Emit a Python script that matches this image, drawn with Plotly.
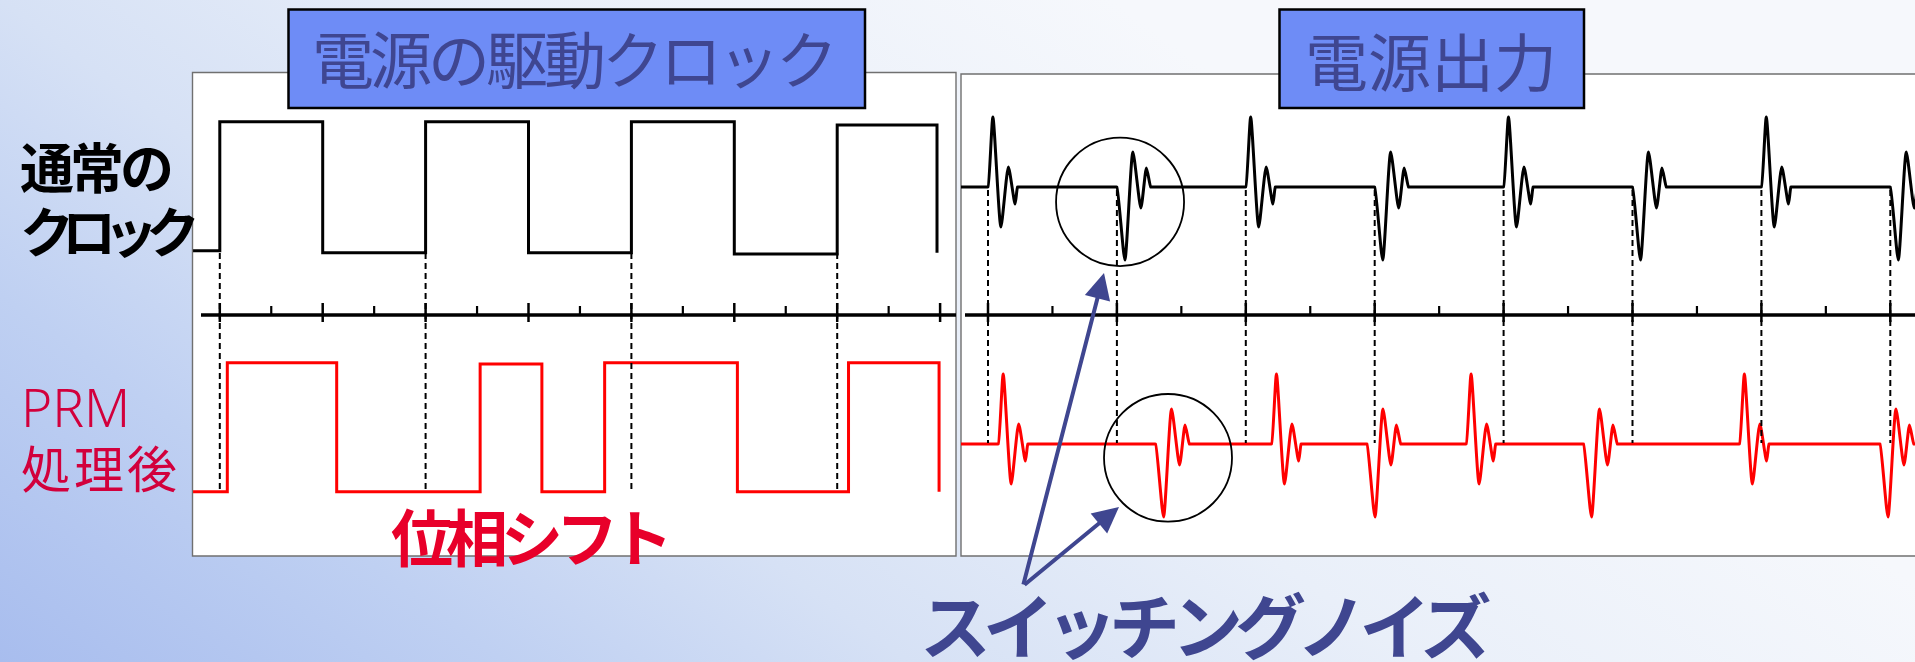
import base64
import plotly.graph_objects as go

W, H = 1915, 662

# ---------------- data ----------------
# Left panel: power-supply drive clock (time unit = one clock half period)
clock_times = [-0.26, 0, 1, 2, 3, 4, 5, 6, 6.97]
clock_levels = [0.015, 1, 0, 1, 0, 1, -0.01, 0.975, 0]
prm_times = [-0.26, 0.073, 1.136, 2.53, 3.13, 3.74, 5.03, 6.11, 6.99]
prm_levels = [0, 1, 0, 0.99, 0, 1, 0, 1, 0]
clock_rise_times = [0, 2, 4, 6]
left_major_ticks = [0, 1, 2, 3, 4, 5, 6, 7]
left_minor_ticks = [0.5, 1.5, 2.5, 3.5, 4.5, 5.5, 6.5]

# Right panel: supply output with switching noise
noise_times = [0, 1, 2, 3, 4, 5, 6, 7]
noise_kinds = ["up", "down", "up", "down", "up", "down", "up", "down"]
prm_noise_times = [0.08, 1.30, 2.20, 2.94, 3.71, 4.62, 5.83, 6.92]
prm_noise_kinds = ["up", "down", "up", "down", "up", "down", "up", "down"]
ring_up_dt = [-0.006, 0, 0.038, 0.100, 0.158, 0.210, 0.229, 0.235]
ring_up_amp = [0, 0, 1.0, -0.571, 0.286, -0.243, 0, 0]
ring_down_dt = [-0.006, 0, 0.062, 0.124, 0.186, 0.229, 0.262, 0.268]
ring_down_amp = [0, 0, -1.043, 0.5, -0.3, 0.271, 0, 0]
right_major_ticks = [0, 1, 2, 3, 4, 5, 6, 7]
right_minor_ticks = [0.5, 1.5, 2.5, 3.5, 4.5, 5.5, 6.5]

# Texts
title_left = "電源の駆動クロック"
title_right = "電源出力"
label_normal = ["通常の", "クロック"]
label_prm = ["PRM", "処理後"]
label_shift = "位相シフト"
label_noise = "スイッチングノイズ"

# ---------------- geometry helpers ----------------
def fx(px):
    return px / W

def fy(py):
    return 1 - py / H

def yax(px_top, px_bot, px_zero, ppu):
    return dict(domain=[fy(px_bot), fy(px_top)],
                range=[(px_zero - px_bot) / ppu, (px_zero - px_top) / ppu],
                visible=False, fixedrange=True)

L_X0, L_X1, L_T0, L_U = 193, 956, 219.8, 102.9
R_X0, R_X1, R_T0, R_U = 961, 1915, 988, 128.9
rangeL = [(L_X0 - L_T0) / L_U, (L_X1 - L_T0) / L_U]
rangeR = [(R_X0 - R_T0) / R_U, (R_X1 - R_T0) / R_U]

def ring_trace(times, kinds, t_start, t_end):
    xs, ys = [t_start], [0]
    for t, k in zip(times, kinds):
        dt = ring_up_dt if k == "up" else ring_down_dt
        amp = ring_up_amp if k == "up" else ring_down_amp
        xs += [t + d for d in dt]
        ys += amp
    xs.append(t_end)
    ys.append(0)
    return xs, ys

def seg(xs, y0, y1):
    X, Y = [], []
    for x in xs:
        X += [x, x, None]
        Y += [y0, y1, None]
    return X, Y

fig = go.Figure()

# left panel signals
fig.add_trace(go.Scatter(x=clock_times, y=clock_levels, mode="lines",
                         line=dict(color="black", width=3, shape="hv"),
                         xaxis="x", yaxis="y", hoverinfo="skip"))
fig.add_trace(go.Scatter(x=prm_times, y=prm_levels, mode="lines",
                         line=dict(color="#ff0000", width=3, shape="hv"),
                         xaxis="x", yaxis="y2", hoverinfo="skip"))

# right panel signals
nx, ny = ring_trace(noise_times, noise_kinds, rangeR[0], 7.5)
fig.add_trace(go.Scatter(x=nx, y=ny, mode="lines",
                         line=dict(color="black", width=3, shape="spline", smoothing=0.6),
                         xaxis="x2", yaxis="y3", hoverinfo="skip"))
px_, py_ = ring_trace(prm_noise_times, prm_noise_kinds, rangeR[0], 7.5)
fig.add_trace(go.Scatter(x=px_, y=py_, mode="lines",
                         line=dict(color="#ff0000", width=3, shape="spline", smoothing=0.6),
                         xaxis="x2", yaxis="y4", hoverinfo="skip"))

# time axes with ticks (y5 row, 1 unit = 1 px)
for xa, line_x, majors, minors in [
    ("x", [(201 - L_T0) / L_U, rangeL[1]], left_major_ticks, left_minor_ticks),
    ("x2", [(965 - R_T0) / R_U, 7.5], right_major_ticks, right_minor_ticks),
]:
    fig.add_trace(go.Scatter(x=line_x, y=[0, 0], mode="lines",
                             line=dict(color="black", width=3.5),
                             xaxis=xa, yaxis="y5", hoverinfo="skip"))
    mx, my = seg(majors, -7, 12)
    fig.add_trace(go.Scatter(x=mx, y=my, mode="lines",
                             line=dict(color="black", width=2.5),
                             xaxis=xa, yaxis="y5", hoverinfo="skip"))
    nx2, ny2 = seg(minors, 0, 9)
    fig.add_trace(go.Scatter(x=nx2, y=ny2, mode="lines",
                             line=dict(color="black", width=2.2),
                             xaxis=xa, yaxis="y5", hoverinfo="skip"))

shapes = []
# panels
shapes.append(dict(type="rect", xref="paper", yref="paper", layer="below",
                   x0=fx(192.5), x1=fx(956), y0=fy(556), y1=fy(72.5),
                   fillcolor="white", line=dict(color="#707070", width=1.4)))
shapes.append(dict(type="rect", xref="paper", yref="paper", layer="below",
                   x0=fx(961), x1=fx(1930), y0=fy(556), y1=fy(74),
                   fillcolor="white", line=dict(color="#707070", width=1.4)))
# title boxes
for x0, x1 in [(288.5, 865), (1279.5, 1584)]:
    shapes.append(dict(type="rect", xref="paper", yref="paper", layer="below",
                       x0=fx(x0), x1=fx(x1), y0=fy(108), y1=fy(9.5),
                       fillcolor="#6e8cf6", line=dict(color="black", width=2.5)))
# dashed guide lines
for t in clock_rise_times:
    shapes.append(dict(type="line", xref="x", yref="paper", x0=t, x1=t,
                       y0=fy(253), y1=fy(493),
                       line=dict(color="black", width=2, dash="6px,4px")))
for t in noise_times:
    shapes.append(dict(type="line", xref="x2", yref="paper", x0=t, x1=t,
                       y0=fy(190), y1=fy(443),
                       line=dict(color="black", width=2, dash="6px,4px")))
# circles around noise
shapes.append(dict(type="circle", xref="x2", yref="y3",
                   x0=0.528, x1=1.521, y0=-1.129, y1=0.704,
                   line=dict(color="black", width=1.8)))
shapes.append(dict(type="circle", xref="x2", yref="y4",
                   x0=0.90, x1=1.893, y0=-1.11, y1=0.714,
                   line=dict(color="black", width=1.8)))

FONT = "Noto Sans CJK JP"
ann = []

def sp(text, spacing=0, size=None, family=None, weight=None):
    st = []
    if spacing:
        st.append("letter-spacing:%dpx" % spacing)
    if size:
        st.append("font-size:%dpx" % size)
    if family:
        st.append("font-family:'%s'" % family)
    if weight:
        st.append("font-weight:%d" % weight)
    if not st:
        return text
    return '<span style="%s">%s</span>' % (";".join(st), text)

def txt(text, x, y, size, color, xanchor="center", bold=False, spacing=0,
        family=FONT, align="center"):
    s = sp(text, spacing)
    if bold:
        s = "<b>" + s + "</b>"
    ann.append(dict(text=s, x=fx(x), y=fy(y), xref="paper", yref="paper",
                    xanchor=xanchor, yanchor="middle", showarrow=False, align=align,
                    font=dict(family=family, size=size, color=color)))

txt(title_left, 573, 57, 62, "#3f4691", spacing=-4)
txt(title_right, 1431, 58, 63, "#3f4691")
# two-line left labels
ann.append(dict(text="<b>" + sp(label_normal[0], -4, 54) + "<br>" + sp(label_normal[1], -12, 54) + "</b>",
                x=fx(18), y=fy(197), xref="paper", yref="paper", xanchor="left",
                yanchor="middle", align="left", showarrow=False,
                font=dict(family=FONT, size=49, color="black")))
ann.append(dict(text=sp(label_prm[0], 0, 53, "Noto Sans", 300) + "<br>" + sp(label_prm[1], 3, 50),
                x=fx(19), y=fy(436), xref="paper", yref="paper", xanchor="left",
                yanchor="middle", align="left", showarrow=False,
                font=dict(family=FONT, size=47, color="#d2003c")))
txt(label_shift, 528, 535, 62, "#e8002a", bold=True, spacing=-7)
txt(label_noise, 1205, 622, 71, "#3f4690", bold=True, spacing=-8)

# arrows
for tip, tail in [((1104, 273), (1023, 586)), ((1119, 507), (1023, 586))]:
    ann.append(dict(text="", x=fx(tip[0]), y=fy(tip[1]), xref="paper", yref="paper",
                    ax=tail[0] - tip[0], ay=tail[1] - tip[1], showarrow=True,
                    arrowhead=2, arrowsize=1.3, arrowwidth=4, arrowcolor="#3f4690",
                    standoff=0))

svg = f'''<svg xmlns="http://www.w3.org/2000/svg" width="{W}" height="{H}" viewBox="0 0 {W} {H}" preserveAspectRatio="none">
<defs><linearGradient id="g" gradientUnits="userSpaceOnUse" x1="0" y1="{H}" x2="700" y2="-300">
<stop offset="0" stop-color="#a8bdee"/>
<stop offset="0.25" stop-color="#bfd0f2"/>
<stop offset="0.45" stop-color="#d6e1f5"/>
<stop offset="0.7" stop-color="#e9eff9"/>
<stop offset="1" stop-color="#f6f8fc"/>
</linearGradient></defs><rect width="{W}" height="{H}" fill="url(#g)"/></svg>'''
bg_src = "data:image/svg+xml;base64," + base64.b64encode(svg.encode()).decode()

fig.update_layout(
    width=W, height=H, margin=dict(l=0, r=0, t=0, b=0),
    paper_bgcolor="#dfe8f7", plot_bgcolor="rgba(0,0,0,0)",
    showlegend=False,
    xaxis=dict(domain=[fx(L_X0), fx(L_X1)], range=rangeL, visible=False, fixedrange=True),
    xaxis2=dict(domain=[fx(R_X0), 1.0], range=rangeR, visible=False, fixedrange=True),
    yaxis=yax(80, 300, 252.7, 131),
    yaxis2=yax(330, 550, 491.7, 129),
    yaxis3=yax(80, 300, 187, 70),
    yaxis4=yax(330, 550, 444, 70),
    yaxis5=yax(290, 340, 315, 1),
    shapes=shapes, annotations=ann,
    images=[dict(source=bg_src, xref="paper", yref="paper", x=0, y=1,
                 sizex=1, sizey=1, sizing="stretch", layer="below",
                 xanchor="left", yanchor="top")],
)

fig.write_html("out.html", config={"displayModeBar": False},
               post_script="document.body.style.margin='0';document.body.style.overflow='hidden';")
